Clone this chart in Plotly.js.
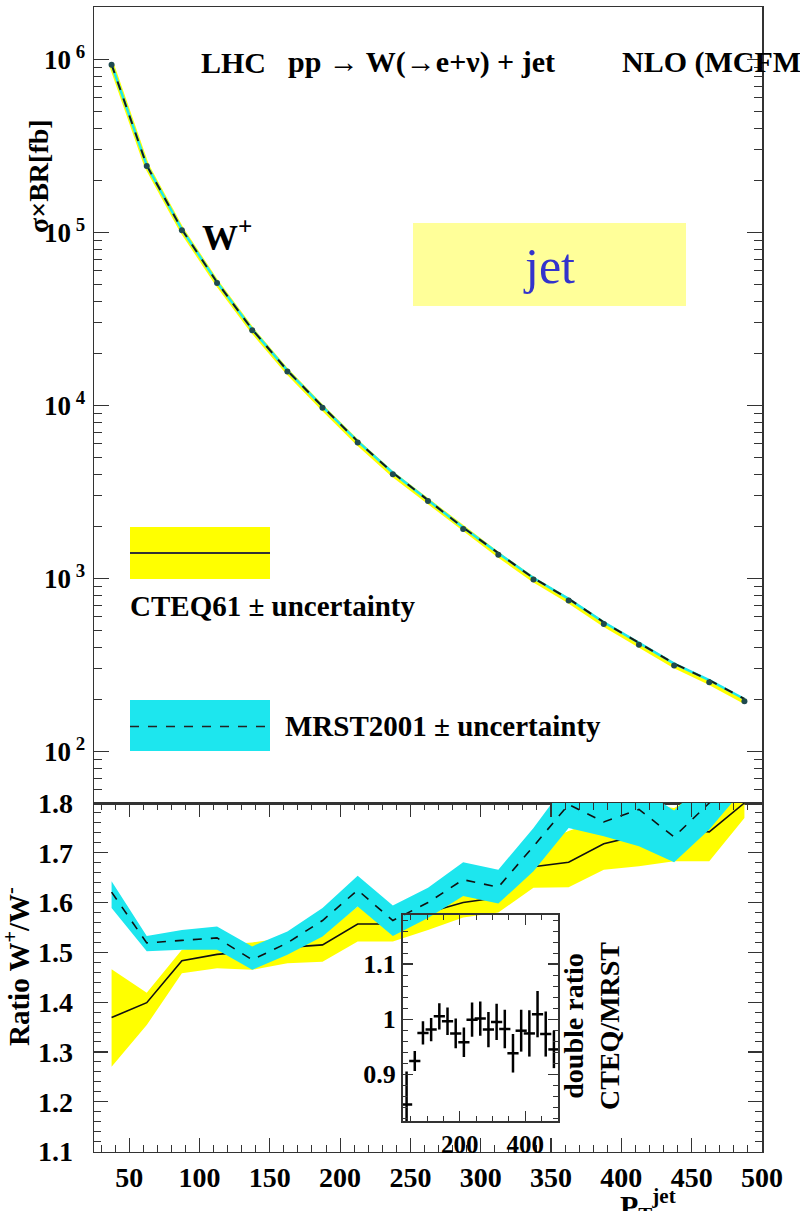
<!DOCTYPE html>
<html>
<head>
<meta charset="utf-8">
<script src="https://cdn.plot.ly/plotly-3.0.1.min.js"></script>
<style>html,body{margin:0;padding:0;background:#fff;}#plot{width:800px;height:1211px;}</style>
</head>
<body>
<div id="plot"></div>
<script>
// ---- data ----
const ptJet = [37.5, 62.5, 87.5, 112.5, 137.5, 162.5, 187.5, 212.5, 237.5, 262.5, 287.5, 312.5, 337.5, 362.5, 387.5, 412.5, 437.5, 462.5, 487.5];

// sigma x BR [fb], W+ + jet
const xsecCTEQ = [9.3e5, 2.42e5, 1.03e5, 5.1e4, 2.72e4, 1.57e4, 9.7e3, 6.1e3, 4.0e3, 2.8e3, 1.93e3, 1.37e3, 985, 745, 545, 414, 314, 251, 195];
const xsecMRST = [9.35e5, 2.44e5, 1.04e5, 5.15e4, 2.75e4, 1.59e4, 9.85e3, 6.2e3, 4.08e3, 2.85e3, 1.97e3, 1.40e3, 1005, 762, 558, 424, 322, 258, 201];

// ratio W+/W-
const ratioCTEQ = [1.369, 1.399, 1.483, 1.496, 1.502, 1.510, 1.515, 1.557, 1.557, 1.580, 1.600, 1.610, 1.672, 1.681, 1.718, 1.735, 1.748, 1.742, 1.800];
const cteqLow   = [1.270, 1.354, 1.458, 1.468, 1.465, 1.478, 1.481, 1.522, 1.522, 1.545, 1.570, 1.580, 1.630, 1.631, 1.666, 1.673, 1.683, 1.683, 1.770];
const cteqHigh  = [1.466, 1.419, 1.505, 1.515, 1.520, 1.530, 1.535, 1.592, 1.592, 1.626, 1.645, 1.650, 1.715, 1.744, 1.770, 1.800, 1.790, 1.830, 1.860];
const ratioMRST = [1.621, 1.519, 1.524, 1.529, 1.485, 1.519, 1.564, 1.625, 1.564, 1.600, 1.646, 1.631, 1.713, 1.797, 1.762, 1.787, 1.732, 1.800, 1.860];
const mrstLow   = [1.589, 1.502, 1.505, 1.505, 1.465, 1.495, 1.532, 1.592, 1.533, 1.569, 1.613, 1.598, 1.663, 1.750, 1.733, 1.713, 1.681, 1.747, 1.830];
const mrstHigh  = [1.643, 1.533, 1.545, 1.552, 1.512, 1.542, 1.589, 1.654, 1.594, 1.630, 1.681, 1.666, 1.750, 1.845, 1.800, 1.830, 1.785, 1.850, 1.900];

// double ratio CTEQ/MRST (inset)
const dblRatio = [0.845, 0.924, 0.975, 0.981, 1.005, 0.996, 0.974, 0.958, 0.999, 1.001, 0.981, 0.995, 0.982, 0.938, 0.979, 0.974, 1.009, 0.973, 0.945];
const dblErr   = [0.060, 0.018, 0.021, 0.021, 0.024, 0.025, 0.027, 0.027, 0.031, 0.031, 0.032, 0.033, 0.035, 0.035, 0.038, 0.042, 0.042, 0.041, 0.034];

// tick labels
const logTickVals = [1e2, 1e3, 1e4, 1e5, 1e6];
const logTickText = ['10<sup> 2</sup>', '10<sup> 3</sup>', '10<sup> 4</sup>', '10<sup> 5</sup>', '10<sup> 6</sup>'];
const insetYVals = [0.9, 1, 1.1];
const insetYText = ['0.9', '1', '1.1'];
const insetXVals = [200, 400];

// ---- styling ----
const W = 800, H = 1211;
const px = x => x / W;
const py = y => 1 - y / H;
const SERIF = 'Liberation Serif, Times New Roman, serif';
const YEL = '#ffff00';
const CYN = '#1de6ee';
const FR = '#333333';

const minorLog = [];
for (let d = 1; d <= 6; d++) for (let k = 2; k <= 9; k++) minorLog.push(k * Math.pow(10, d));

const traces = [
  // upper panel
  {x: ptJet, y: xsecCTEQ, xaxis: 'x', yaxis: 'y', mode: 'lines', line: {color: YEL, width: 5}, hoverinfo: 'skip'},
  {x: ptJet, y: xsecMRST, xaxis: 'x', yaxis: 'y', mode: 'lines', line: {color: CYN, width: 2.5}, hoverinfo: 'skip'},
  {x: ptJet, y: xsecMRST, xaxis: 'x', yaxis: 'y', mode: 'lines', line: {color: '#1a1a1a', width: 2, dash: 'dash'}, hoverinfo: 'skip'},
  {x: ptJet, y: xsecCTEQ, xaxis: 'x', yaxis: 'y', mode: 'markers', marker: {color: '#1f4a4f', size: 6}, hoverinfo: 'skip'},
  // lower panel: CTEQ band + line
  {x: ptJet, y: cteqLow, xaxis: 'x2', yaxis: 'y2', mode: 'lines', line: {width: 0, color: YEL}, hoverinfo: 'skip'},
  {x: ptJet, y: cteqHigh, xaxis: 'x2', yaxis: 'y2', mode: 'lines', fill: 'tonexty', fillcolor: YEL, line: {width: 0, color: YEL}, hoverinfo: 'skip'},
  {x: ptJet, y: ratioCTEQ, xaxis: 'x2', yaxis: 'y2', mode: 'lines', line: {color: '#111', width: 1.6}, hoverinfo: 'skip'},
  // MRST band + dashed line
  {x: ptJet, y: mrstLow, xaxis: 'x2', yaxis: 'y2', mode: 'lines', line: {width: 0, color: CYN}, hoverinfo: 'skip'},
  {x: ptJet, y: mrstHigh, xaxis: 'x2', yaxis: 'y2', mode: 'lines', fill: 'tonexty', fillcolor: CYN, line: {width: 0, color: CYN}, hoverinfo: 'skip'},
  {x: ptJet, y: ratioMRST, xaxis: 'x2', yaxis: 'y2', mode: 'lines', line: {color: '#111', width: 1.6, dash: 'dash'}, hoverinfo: 'skip'},
  // inset double ratio
  {x: ptJet, y: dblRatio, xaxis: 'x3', yaxis: 'y3', mode: 'markers',
   marker: {symbol: 'line-ew-open', size: 8, color: '#000', line: {width: 2.5, color: '#000'}},
   error_y: {type: 'data', array: dblErr, visible: true, thickness: 2.5, width: 0, color: '#000'}, hoverinfo: 'skip'}
];

const tickFont = s => ({family: SERIF, size: s, color: '#000', weight: 'bold'});
const bold = s => ({family: SERIF, size: s, color: '#000', weight: 'bold'});

const layout = {
  width: W, height: H,
  margin: {l: 0, r: 0, t: 0, b: 0},
  paper_bgcolor: '#fff', plot_bgcolor: 'rgba(0,0,0,0)',
  showlegend: false,
  xaxis: {domain: [px(94), px(762)], anchor: 'y', range: [25, 500], showticklabels: false, ticks: '',
          showline: true, mirror: true, linecolor: FR, linewidth: 1.5, showgrid: false, zeroline: false},
  yaxis: {domain: [py(803), py(7)], anchor: 'x', type: 'log', range: [1.702, 6.303],
          tickmode: 'array', tickvals: logTickVals, ticktext: logTickText, tickfont: tickFont(27),
          ticks: 'inside', ticklen: 15, tickwidth: 1.2, tickcolor: FR,
          minor: {tickmode: 'array', tickvals: minorLog, ticks: 'inside', ticklen: 8, tickwidth: 1, tickcolor: FR, showgrid: false},
          showline: true, mirror: 'ticks', linecolor: FR, linewidth: 1.5, showgrid: false, zeroline: false, ticklabelstandoff: 2},
  xaxis2: {domain: [px(94), px(762)], anchor: 'y2', range: [25, 500], tickmode: 'linear', tick0: 0, dtick: 50,
           tickfont: tickFont(28), ticks: 'inside', ticklen: 14, tickwidth: 1.2, tickcolor: FR,
           minor: {tickmode: 'linear', tick0: 0, dtick: 10, ticks: 'inside', ticklen: 7, tickwidth: 1, tickcolor: FR, showgrid: false},
           showline: true, mirror: 'ticks', linecolor: FR, linewidth: 1.5, showgrid: false, zeroline: false, ticklabelstandoff: 0},
  yaxis2: {domain: [py(1151.5), py(803)], anchor: 'x2', range: [1.1, 1.8], tickmode: 'linear', tick0: 0, dtick: 0.1, tickformat: '.1f',
           tickfont: tickFont(28), ticks: 'inside', ticklen: 14, tickwidth: 1.2, tickcolor: FR,
           minor: {tickmode: 'linear', tick0: 0, dtick: 0.02, ticks: 'inside', ticklen: 7, tickwidth: 1, tickcolor: FR, showgrid: false},
           showline: true, mirror: 'ticks', linecolor: FR, linewidth: 1.5, showgrid: false, zeroline: false, ticklabelstandoff: 14},
  xaxis3: {domain: [px(402.5), px(558)], anchor: 'y3', range: [25, 500], tickmode: 'array', tickvals: insetXVals,
           tickfont: tickFont(25), ticks: 'inside', ticklen: 10, tickwidth: 1.2, tickcolor: FR,
           minor: {tickmode: 'linear', tick0: 0, dtick: 50, ticks: 'inside', ticklen: 5, tickwidth: 1, tickcolor: FR, showgrid: false},
           showline: true, mirror: 'ticks', linecolor: FR, linewidth: 1.5, showgrid: false, zeroline: false},
  yaxis3: {domain: [py(1121), py(914.5)], anchor: 'x3', range: [0.815, 1.19], tickmode: 'array', tickvals: insetYVals, ticktext: insetYText,
           tickfont: tickFont(26), ticks: 'inside', ticklen: 10, tickwidth: 1.2, tickcolor: FR,
           minor: {tickmode: 'linear', tick0: 0, dtick: 0.02, ticks: 'inside', ticklen: 5, tickwidth: 1, tickcolor: FR, showgrid: false},
           showline: true, mirror: 'ticks', linecolor: FR, linewidth: 1.5, showgrid: false, zeroline: false},
  shapes: [
    {type: 'rect', xref: 'paper', yref: 'paper', x0: px(413), x1: px(686), y0: py(306), y1: py(223), fillcolor: '#ffff99', line: {width: 0}, layer: 'below'},
    {type: 'rect', xref: 'paper', yref: 'paper', x0: px(130), x1: px(270), y0: py(579), y1: py(527), fillcolor: YEL, line: {width: 0}},
    {type: 'line', xref: 'paper', yref: 'paper', x0: px(130), x1: px(270), y0: py(553), y1: py(553), line: {color: '#333', width: 1.8}},
    {type: 'rect', xref: 'paper', yref: 'paper', x0: px(130), x1: px(270), y0: py(751), y1: py(700), fillcolor: CYN, line: {width: 0}},
    {type: 'line', xref: 'paper', yref: 'paper', x0: px(130), x1: px(270), y0: py(726.5), y1: py(726.5), line: {color: '#222', width: 1.5, dash: 'dash'}}
  ],
  annotations: [
    {text: 'LHC', x: px(199), y: py(62), xanchor: 'left', yanchor: 'middle'},
    {text: 'pp \u2192 W(\u2192e+\u03bd) + jet', x: px(286), y: py(62), xanchor: 'left', yanchor: 'middle'},
    {text: 'NLO (MCFM)', x: px(620), y: py(62), xanchor: 'left', yanchor: 'middle'},
    {text: 'W<sup>+</sup>', x: px(200), y: py(236), xanchor: 'left', yanchor: 'middle', font: bold(36)},
    {text: 'jet', x: px(549), y: py(266), xanchor: 'center', yanchor: 'middle', font: {family: SERIF, size: 50, color: '#3333cc'}},
    {text: 'CTEQ61 \u00b1 uncertainty', x: px(128), y: py(606), xanchor: 'left', yanchor: 'middle', font: bold(29)},
    {text: 'MRST2001 \u00b1 uncertainty', x: px(283), y: py(726), xanchor: 'left', yanchor: 'middle', font: bold(29)},
    {text: '\u03c3\u00d7BR[fb]', x: px(38), y: py(176), textangle: -90, xanchor: 'center', yanchor: 'middle', font: bold(28)},
    {text: 'Ratio W<sup>+</sup>/W<sup>-</sup>', x: px(17), y: py(967), textangle: -90, xanchor: 'center', yanchor: 'middle', font: bold(29)},
    {text: 'P<sub>T</sub><sup>jet</sup>', x: px(648), y: py(1182), xanchor: 'center', yanchor: 'top', font: bold(30)},
    {text: 'double ratio<br>CTEQ/MRST', x: px(591), y: py(1026), textangle: -90, xanchor: 'center', yanchor: 'middle', font: bold(28)}
  ].map(a => Object.assign({xref: 'paper', yref: 'paper', showarrow: false, font: bold(30)}, a))
};

Plotly.newPlot('plot', traces, layout, {staticPlot: true, displayModeBar: false});
</script>
</body>
</html>
